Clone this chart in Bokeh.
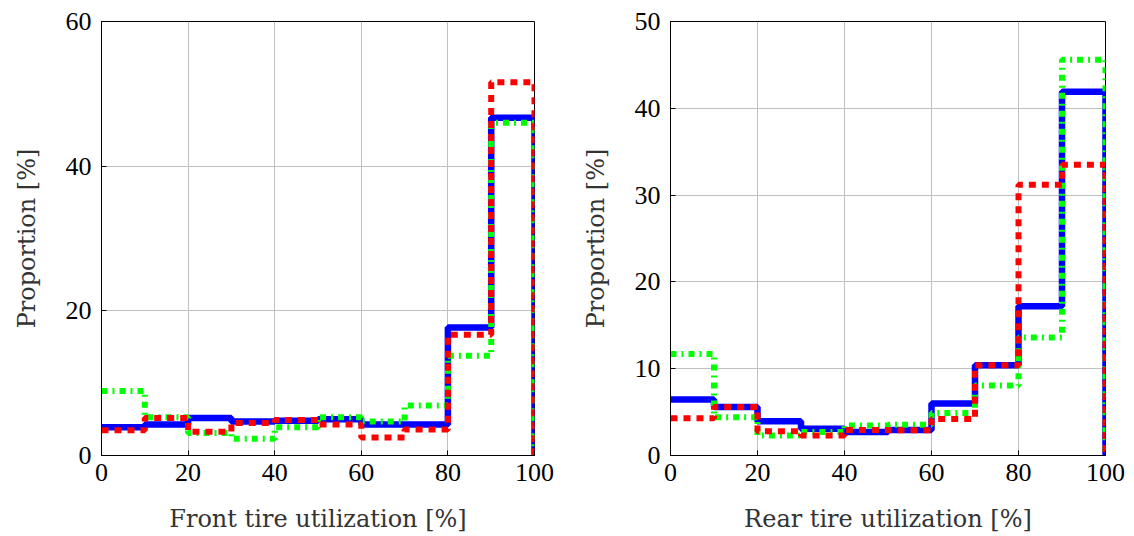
from bokeh.plotting import figure
from bokeh.layouts import row
from bokeh.models import Range1d, FixedTicker
from bokeh.embed import file_html
from bokeh.resources import INLINE

# Bin edges (tire utilization, %)
edges = [0, 10, 20, 30, 40, 50, 60, 70, 80, 90, 100]

# Front tire utilization proportions [%]
front_blue = [3.9, 4.3, 5.2, 4.7, 4.8, 5.0, 4.3, 4.3, 17.7, 46.7]
front_green = [8.9, 5.3, 3.1, 2.3, 3.9, 5.3, 4.7, 6.9, 13.8, 46.0]
front_red = [3.5, 5.2, 3.3, 4.5, 4.9, 4.3, 2.5, 3.6, 16.7, 51.6]

# Rear tire utilization proportions [%]
rear_blue = [6.45, 5.6, 3.95, 3.07, 2.7, 2.95, 6.0, 10.4, 17.2, 41.9]
rear_green = [11.7, 4.4, 2.3, 2.7, 3.45, 3.55, 4.9, 8.06, 13.6, 45.6]
rear_red = [4.3, 5.6, 2.8, 2.3, 2.95, 2.9, 4.2, 10.4, 31.2, 33.5]

x_ticks = [0, 20, 40, 60, 80, 100]
front_y_ticks = [0, 20, 40, 60]
rear_y_ticks = [0, 10, 20, 30, 40, 50]

TICK_FONT = "Liberation Serif"
LABEL_FONT = "DejaVu Serif"


def make_fig(xlabel, ymax, yticks, blue, green, red, left_border, right_border, fw):
    p = figure(frame_width=fw, frame_height=434, output_backend="svg",
               toolbar_location=None, x_range=Range1d(0, 100), y_range=Range1d(0, ymax),
               min_border_left=left_border, min_border_right=right_border,
               min_border_top=21, min_border_bottom=70)
    p.outline_line_color = "black"
    p.outline_line_width = 1
    p.outline_line_alpha = 1
    for ax in (p.xaxis[0], p.yaxis[0]):
        ax.axis_line_color = "black"
        ax.major_tick_in = 5
        ax.major_tick_out = 0
        ax.minor_tick_in = 0
        ax.minor_tick_out = 0
        ax.major_label_text_font = TICK_FONT
        ax.major_label_text_font_size = "26px"
        ax.major_label_text_color = "black"
        ax.axis_label_text_font = LABEL_FONT
        ax.axis_label_text_font_size = "24px"
        ax.axis_label_text_font_style = "normal"
        ax.axis_label_text_color = "#333333"
        ax.major_tick_line_color = "black"
    p.xaxis[0].ticker = FixedTicker(ticks=x_ticks)
    p.yaxis[0].ticker = FixedTicker(ticks=yticks)
    p.xaxis[0].axis_label = xlabel
    p.yaxis[0].axis_label = "Proportion [%]"
    p.xaxis[0].major_label_standoff = 8
    p.yaxis[0].major_label_standoff = 10
    p.xaxis[0].axis_label_standoff = 21
    p.yaxis[0].axis_label_standoff = 22
    p.grid.grid_line_color = "#c0c0c0"
    p.grid.grid_line_width = 1
    p.xgrid.ticker = FixedTicker(ticks=x_ticks)
    p.ygrid.ticker = FixedTicker(ticks=yticks)

    p.step(x=edges, y=blue + [0], mode="after", line_color="#0000ff", line_width=6.5)
    p.step(x=edges, y=green + [0], mode="after", line_color="#00ff00", line_width=6,
           line_dash="6 5 2 5")
    p.step(x=edges, y=red + [0], mode="after", line_color="#ff0000", line_width=6,
           line_dash="7 6")
    return p


p1 = make_fig("Front tire utilization [%]", 60, front_y_ticks,
              front_blue, front_green, front_red, 101, 20, 433)
p2 = make_fig("Rear tire utilization [%]", 50, rear_y_ticks,
              rear_blue, rear_green, rear_red, 116, 20, 435)

layout = row(p1, p2)
open("out.html", "w").write(file_html(layout, INLINE))
